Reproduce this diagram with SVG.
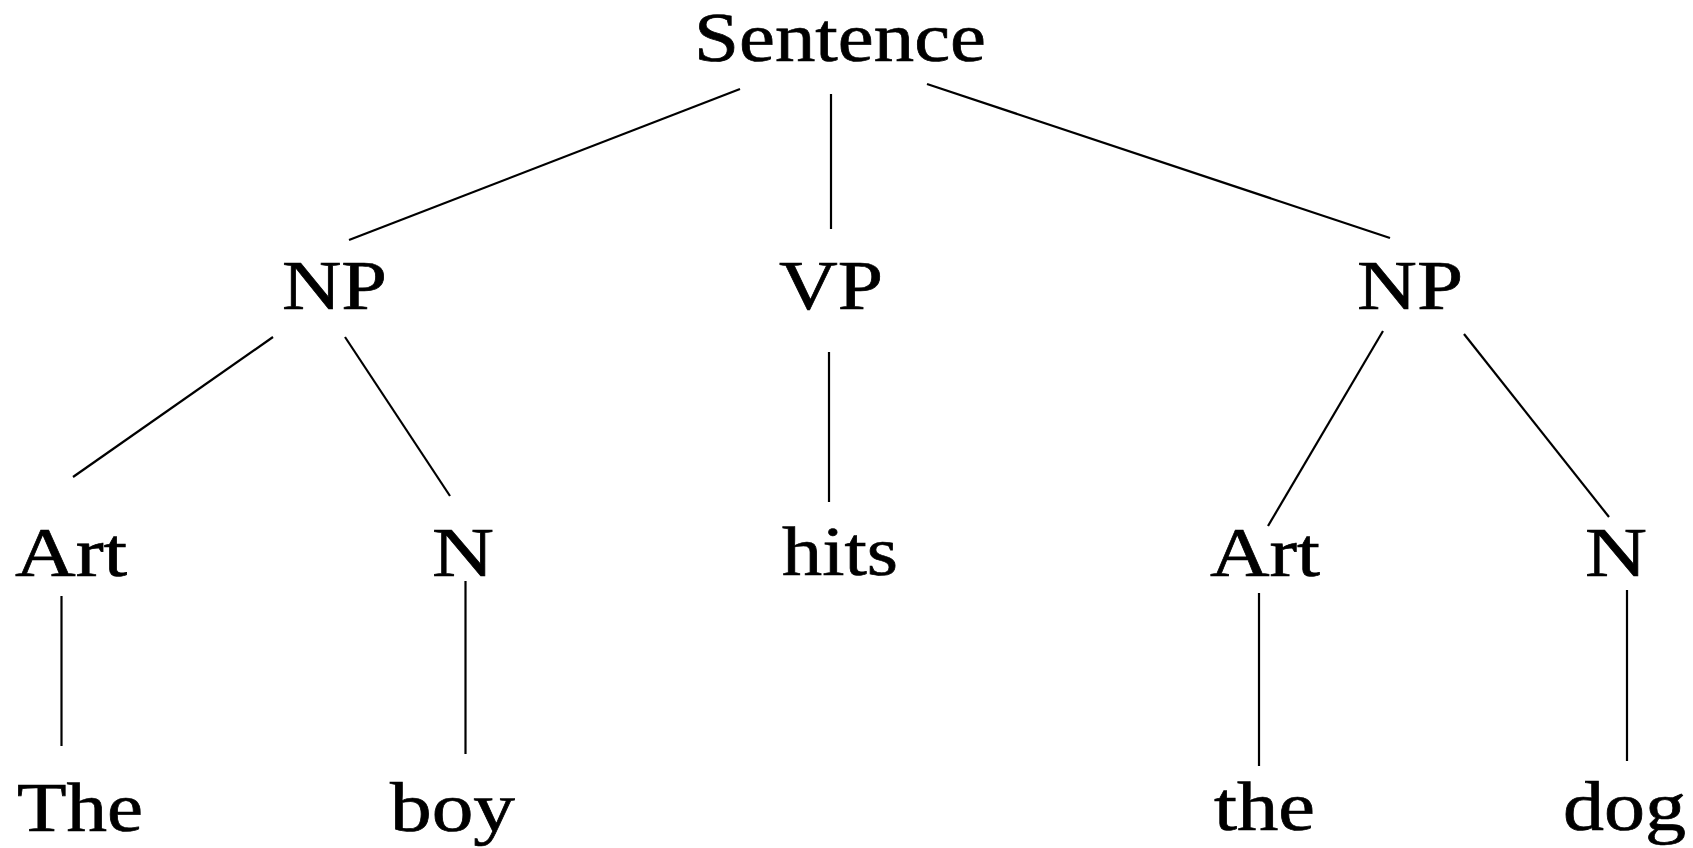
<svg xmlns="http://www.w3.org/2000/svg" width="1693" height="848" viewBox="0 0 1693 848">
<style>
text{font-family:"Liberation Serif","Times New Roman",serif;font-size:70px;fill:#000;stroke:#000;stroke-width:0.7}
.e line{stroke:#000;stroke-width:2.2}
</style>
<rect width="1693" height="848" fill="#fff"/>
<g class="e" id="connectors">
<line x1="740" y1="89" x2="349" y2="240"/>
<line x1="831" y1="94" x2="831" y2="229"/>
<line x1="927" y1="84" x2="1390" y2="238"/>
<line x1="273" y1="337" x2="73" y2="477"/>
<line x1="345" y1="337" x2="450" y2="496"/>
<line x1="829" y1="352" x2="829" y2="502"/>
<line x1="1383" y1="331" x2="1268" y2="526"/>
<line x1="1464" y1="334" x2="1609" y2="517"/>
<line x1="61.5" y1="596" x2="61.5" y2="746"/>
<line x1="465.5" y1="581" x2="465.5" y2="754"/>
<line x1="1259" y1="593" x2="1259" y2="766"/>
<line x1="1627" y1="590" x2="1627" y2="761"/>
</g>
<g id="n-sentence"><text x="694" y="61" textLength="292" lengthAdjust="spacingAndGlyphs">Sentence</text></g>
<g id="n-np1"><text x="282" y="309" textLength="105" lengthAdjust="spacingAndGlyphs">NP</text></g>
<g id="n-vp"><text x="779" y="309" textLength="104" lengthAdjust="spacingAndGlyphs">VP</text></g>
<g id="n-np2"><text x="1357" y="309" textLength="106" lengthAdjust="spacingAndGlyphs">NP</text></g>
<g id="n-art1"><text x="15" y="576" textLength="112" lengthAdjust="spacingAndGlyphs">Art</text></g>
<g id="n-n1"><text x="432" y="576" textLength="62" lengthAdjust="spacingAndGlyphs">N</text></g>
<g id="n-hits"><text x="782" y="575" textLength="116" lengthAdjust="spacingAndGlyphs">hits</text></g>
<g id="n-art2"><text x="1210" y="576" textLength="110" lengthAdjust="spacingAndGlyphs">Art</text></g>
<g id="n-n2"><text x="1585" y="576" textLength="62" lengthAdjust="spacingAndGlyphs">N</text></g>
<g id="n-the1"><text x="17" y="831" textLength="126" lengthAdjust="spacingAndGlyphs">The</text></g>
<g id="n-boy"><text x="390" y="831" textLength="125" lengthAdjust="spacingAndGlyphs">boy</text></g>
<g id="n-the2"><text x="1214" y="830" textLength="101" lengthAdjust="spacingAndGlyphs">the</text></g>
<g id="n-dog"><text x="1563" y="830" textLength="123" lengthAdjust="spacingAndGlyphs">dog</text></g>
</svg>
